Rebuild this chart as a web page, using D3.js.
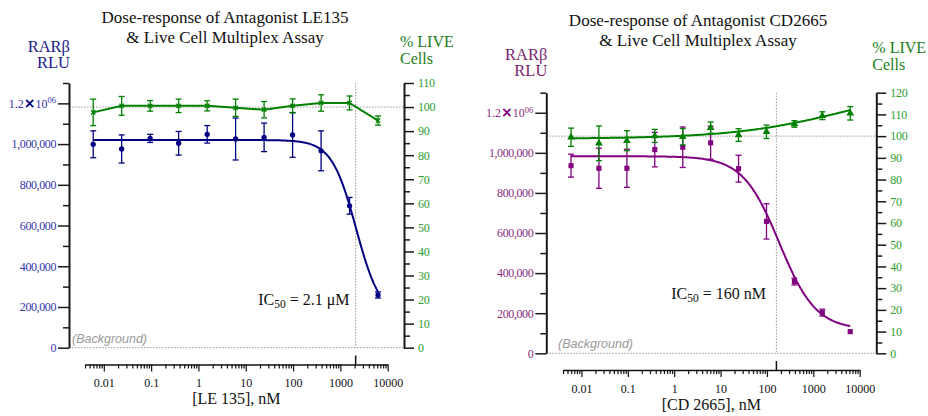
<!DOCTYPE html>
<html><head><meta charset="utf-8">
<script src="https://cdn.jsdelivr.net/npm/d3@7"></script>
<style>
body{margin:0;background:#fff}
svg{display:block}
text{font-family:"Liberation Serif","Times New Roman",serif}
</style></head><body>
<svg id="c" width="928" height="416"></svg>
<script>
// ---------- data ----------
const doses = [0.00596, 0.0238, 0.0954, 0.381, 1.53, 6.10, 24.4, 97.7, 391, 1563, 6250];
const xTickValues = [0.01, 0.1, 1, 10, 100, 1000, 10000];
const xTickLabels = ["0.01", "0.1", "1", "10", "100", "1000", "10000"];
const rluTickValues = [0, 200000, 400000, 600000, 800000, 1000000, 1200000];

// LE135 panel
const le135Rlu    = [999000, 976000, 1028000, 1004000, 1048000, 1025000, 1033000, 1045000, 967000, 697000, 259000];
const le135RluErr = [66000, 69000, 20000, 58000, 43000, 103000, 70000, 110000, 98000, 41000, 15000];
const le135Live    = [97.8, 100.5, 100.5, 100.5, 100.5, 99.7, 98.9, 100.5, 101.7, 101.7, 94.4];
const le135LiveErr = [5.5, 3.9, 2.2, 2.8, 2.1, 3.6, 3.4, 2.9, 3.4, 2.9, 1.9];
const le135Fit = [1020000, 150000, 2150, 1.68];   // top, bottom, IC50 (nM), Hill
const le135IC50 = 2100;                           // nM, label "2.1 μM"

// CD2665 panel
const cdRlu    = [936000, 923000, 923000, 1016000, 1028000, 1050000, 921000, 658000, 358000, 203000, 108000];
const cdRluErr = [57000, 100000, 95000, 86000, 101000, 82000, 67000, 88000, 17000, 17000, 0];
const cdLive    = [99.5, 96.7, 97.9, 100.1, 99.7, 103.9, 100.5, 102.0, 105.6, 109.4, 110.5];
const cdLiveErr = [4.2, 8.0, 4.6, 3.0, 3.8, 2.6, 2.9, 3.1, 1.5, 1.8, 3.1];
const cdFit     = [983000, 118000, 185, 1.1];     // top, bottom, IC50 (nM), Hill
const cdLiveFit = [98.8, 125, 6000, 0.35];        // bottom, top, EC50, Hill (rising)
const cdIC50 = 160;

// ---------- drawing ----------
const svg = d3.select("#c");
const fmt = d3.format(",");
const SERIF = "'Liberation Serif', 'Times New Roman', serif";

function logistic(p, d) { // decreasing 4PL: top, bottom, c, h
  return p[1] + (p[0] - p[1]) / (1 + Math.pow(d / p[2], p[3]));
}
function logisticUp(p, d) { // rising: bottom, top, c, h
  return p[0] + (p[1] - p[0]) / (1 + Math.pow(p[2] / d, p[3]));
}

function drawPanel(o) {
  const g = svg.append("g");
  const x = d3.scaleLog().domain([0.004, 10000]).range(o.xRange);
  const yL = d3.scaleLinear().domain([0, 1300000]).range([o.y0, o.yTop]);
  const yR = d3.scaleLinear().domain([0, o.liveMax]).range([o.y0, o.yTop]);

  // titles
  g.append("text").attr("x", o.titleX).attr("y", o.titleY).attr("text-anchor", "middle")
    .attr("font-size", 17).attr("fill", "#111").text(o.title1);
  g.append("text").attr("x", o.titleX).attr("y", o.titleY + 19.5).attr("text-anchor", "middle")
    .attr("font-size", 17).attr("fill", "#111").text("& Live Cell Multiplex Assay");
  g.append("text").attr("x", o.axL + 1).attr("y", o.rluLabelY).attr("text-anchor", "end")
    .attr("font-size", 16.5).attr("fill", o.rluLabelColor).text("RARβ");
  g.append("text").attr("x", o.axL + 1).attr("y", o.rluLabelY + 16).attr("text-anchor", "end")
    .attr("font-size", 16.5).attr("fill", o.rluLabelColor).text("RLU");
  g.append("text").attr("x", o.axR - 4).attr("y", o.liveLabelY).attr("font-size", 16)
    .attr("fill", "#1d7d1d").text("% LIVE");
  g.append("text").attr("x", o.axR - 4).attr("y", o.liveLabelY + 16.5).attr("font-size", 16)
    .attr("fill", "#1d7d1d").text("Cells");

  // reference dotted lines
  const dot = sel => sel.attr("stroke", "#9a9a9a").attr("stroke-width", 1).attr("stroke-dasharray", "1.5,1.5");
  g.append("line").attr("x1", o.axL).attr("x2", o.axR).attr("y1", yR(100)).attr("y2", yR(100)).call(dot);
  g.append("line").attr("x1", o.axL).attr("x2", o.axR).attr("y1", yL(0)).attr("y2", yL(0)).call(dot);
  g.append("line").attr("x1", x(o.ic50)).attr("x2", x(o.ic50)).attr("y1", o.yTop).attr("y2", o.y0).call(dot);
  g.append("text").attr("x", o.bgX).attr("y", yL(0) - 5).attr("font-size", 12.5)
    .attr("font-style", "italic").attr("fill", "#9a9a9a")
    .style("font-family", "'Liberation Sans', Arial, sans-serif").text("(Background)");

  // left axis
  const left = g.append("g").attr("transform", `translate(${o.axL},0)`).attr("color", "#1a1a1a");
  left.call(d3.axisLeft(yL).tickValues(rluTickValues).tickSize(11).tickSizeOuter(0).tickPadding(2)
    .tickFormat(d => fmt(d)));
  left.attr("font-family", SERIF).attr("font-size", 12);
  left.append("g").call(d3.axisLeft(yL).tickValues(d3.range(100000, 1300001, 200000)).tickSize(6).tickSizeOuter(0).tickFormat(""))
    .select(".domain").remove();
  left.select(".domain").attr("stroke-width", 2);
  left.selectAll(".tick line").attr("stroke-width", 1.5);
  left.selectAll(".tick text").attr("font-size", 12).attr("letter-spacing", "-0.4px")
    .attr("fill", o.rluTickColor).style("font-family", SERIF);
  left.selectAll(".tick text").filter(d => d === 1200000).each(function () {
    const t = d3.select(this).text("").attr("letter-spacing", null);
    t.append("tspan").text("1.2");
    t.append("tspan").text("×").attr("font-weight", "bold").attr("font-size", 14).attr("fill", o.rluColor)
      .style("font-family", "'DejaVu Sans', sans-serif");
    t.append("tspan").text("10");
    t.append("tspan").text("06").attr("font-size", 8.5).attr("dy", -4.5);
  });

  // right axis
  const right = g.append("g").attr("transform", `translate(${o.axR},0)`).attr("color", "#1a1a1a");
  right.call(d3.axisRight(yR).tickValues(d3.range(0, o.liveMax + 1, 10)).tickSize(10).tickSizeOuter(0).tickPadding(4));
  right.attr("font-family", SERIF).attr("font-size", 12);
  right.append("g").call(d3.axisRight(yR).tickValues(d3.range(5, o.liveMax, 10)).tickSize(6).tickSizeOuter(0).tickFormat(""))
    .select(".domain").remove();
  right.select(".domain").attr("stroke-width", 2);
  right.selectAll(".tick line").attr("stroke-width", 1.5);
  right.selectAll(".tick text").attr("font-size", 12).attr("letter-spacing", "-0.3px")
    .attr("fill", "#2e9e2e").style("font-family", SERIF);

  // x axis
  const minors = [];
  for (let k = -3; k <= 3; k++) for (let m = 2; m <= 9; m++) {
    const v = +(m * Math.pow(10, k)).toPrecision(3);
    if (v >= 0.004 && v <= 10000) minors.push(v);
  }
  const xa = g.append("g").attr("transform", `translate(0,${o.xAxisY})`).attr("color", "#111");
  xa.call(d3.axisBottom(x).tickValues(xTickValues).tickSize(7).tickSizeOuter(0).tickPadding(7)
    .tickFormat((d, i) => xTickLabels[i]));
  xa.attr("font-family", SERIF).attr("font-size", 12);
  xa.append("g").call(d3.axisBottom(x).tickValues(minors).tickSize(4).tickSizeOuter(0).tickFormat(""))
    .select(".domain").remove();
  xa.select(".domain").attr("stroke-width", 1.5);
  xa.selectAll(".tick line").attr("stroke-width", 1.2);
  xa.selectAll(".tick text").attr("font-size", 12).attr("fill", "#111").style("font-family", SERIF);
  g.append("line").attr("x1", x(o.ic50)).attr("x2", x(o.ic50)).attr("y1", o.xAxisY - 9).attr("y2", o.xAxisY)
    .attr("stroke", "#111").attr("stroke-width", 1.5);
  g.append("text").attr("x", (o.xRange[0] + o.xRange[1]) / 2).attr("y", o.xTitleY).attr("text-anchor", "middle")
    .attr("font-size", 16).attr("fill", "#111").text(o.xTitle);

  // IC50 label
  const ic = g.append("text").attr("x", o.icX).attr("y", o.icY).attr("text-anchor", "end")
    .attr("font-size", 16).attr("fill", "#111");
  ic.append("tspan").text("IC");
  ic.append("tspan").text("50").attr("font-size", 11.5).attr("dy", 3);
  ic.append("tspan").text(" = " + o.icText).attr("dy", -3);

  // error bars helper
  function errBars(vals, errs, y, color) {
    const eg = g.append("g").attr("stroke", color).attr("stroke-width", 1.3).attr("fill", "none");
    vals.forEach((v, i) => {
      if (!errs[i]) return;
      const cx = x(doses[i]), a = y(v + errs[i]), b = y(v - errs[i]);
      eg.append("line").attr("x1", cx).attr("x2", cx).attr("y1", a).attr("y2", b);
      eg.append("line").attr("x1", cx - 3).attr("x2", cx + 3).attr("y1", a).attr("y2", a);
      eg.append("line").attr("x1", cx - 3).attr("x2", cx + 3).attr("y1", b).attr("y2", b);
    });
  }

  const samples = d3.range(0, 201).map(i => doses[0] * Math.pow(doses[10] / doses[0], i / 200));

  // RLU series
  errBars(o.rlu, o.rluErr, yL, o.rluColor);
  g.append("path").datum(samples).attr("fill", "none").attr("stroke", o.rluColor).attr("stroke-width", 2)
    .attr("d", d3.line().x(d => x(d)).y(d => yL(logistic(o.fit, d))));
  g.append("g").selectAll("path").data(o.rlu).join("path")
    .attr("transform", (d, i) => `translate(${x(doses[i])},${yL(d)})`)
    .attr("d", d3.symbol().type(o.rluSymbol).size(o.rluSymbolSize)).attr("fill", o.rluColor);

  // live series
  const green = "#008000";
  errBars(o.live, o.liveErr, yR, green);
  if (o.liveFit) {
    g.append("path").datum(samples).attr("fill", "none").attr("stroke", green).attr("stroke-width", 2)
      .attr("d", d3.line().x(d => x(d)).y(d => yR(logisticUp(o.liveFit, d))));
  } else {
    g.append("path").datum(o.live).attr("fill", "none").attr("stroke", green).attr("stroke-width", 2)
      .attr("d", d3.line().x((d, i) => x(doses[i])).y(d => yR(d)));
  }
  g.append("g").selectAll("path").data(o.live).join("path")
    .attr("transform", (d, i) => `translate(${x(doses[i])},${yR(d)})`)
    .attr("d", d3.symbol().type(o.liveSymbol).size(o.liveSymbolSize)).attr("fill", green).attr("stroke", green)
    .attr("stroke-width", o.liveSymbol === d3.symbolTimes ? 1.3 : 0);
}

drawPanel({
  title1: "Dose-response of Antagonist LE135", titleX: 225, titleY: 23,
  rluLabelY: 52, liveLabelY: 47, rluLabelColor: "#1c1c8c", rluTickColor: "#3535a8",
  axL: 69, axR: 404, yTop: 83, y0: 347.7, liveMax: 110,
  xRange: [85, 387.7], xAxisY: 364.5, xTitleY: 404, xTitle: "[LE 135], nM",
  bgX: 72, ic50: le135IC50, icX: 349.5, icY: 305, icText: "2.1 μM",
  rlu: le135Rlu, rluErr: le135RluErr, fit: le135Fit, rluColor: "#000080",
  rluSymbol: d3.symbolCircle, rluSymbolSize: 22,
  live: le135Live, liveErr: le135LiveErr, liveFit: null,
  liveSymbol: d3.symbolTimes, liveSymbolSize: 14
});

drawPanel({
  title1: "Dose-response of Antagonist CD2665", titleX: 698, titleY: 26,
  rluLabelY: 60, liveLabelY: 53, rluLabelColor: "#7b1f6f", rluTickColor: "#8b2c80",
  axL: 546.3, axR: 876.3, yTop: 92.7, y0: 353.3, liveMax: 120,
  xRange: [563, 859.7], xAxisY: 370, xTitleY: 409.5, xTitle: "[CD 2665], nM",
  bgX: 558, ic50: cdIC50, icX: 766, icY: 298.5, icText: "160 nM",
  rlu: cdRlu, rluErr: cdRluErr, fit: cdFit, rluColor: "#800080",
  rluSymbol: d3.symbolSquare, rluSymbolSize: 26,
  live: cdLive, liveErr: cdLiveErr, liveFit: cdLiveFit,
  liveSymbol: d3.symbolTriangle, liveSymbolSize: 26
});
</script>
</body></html>
